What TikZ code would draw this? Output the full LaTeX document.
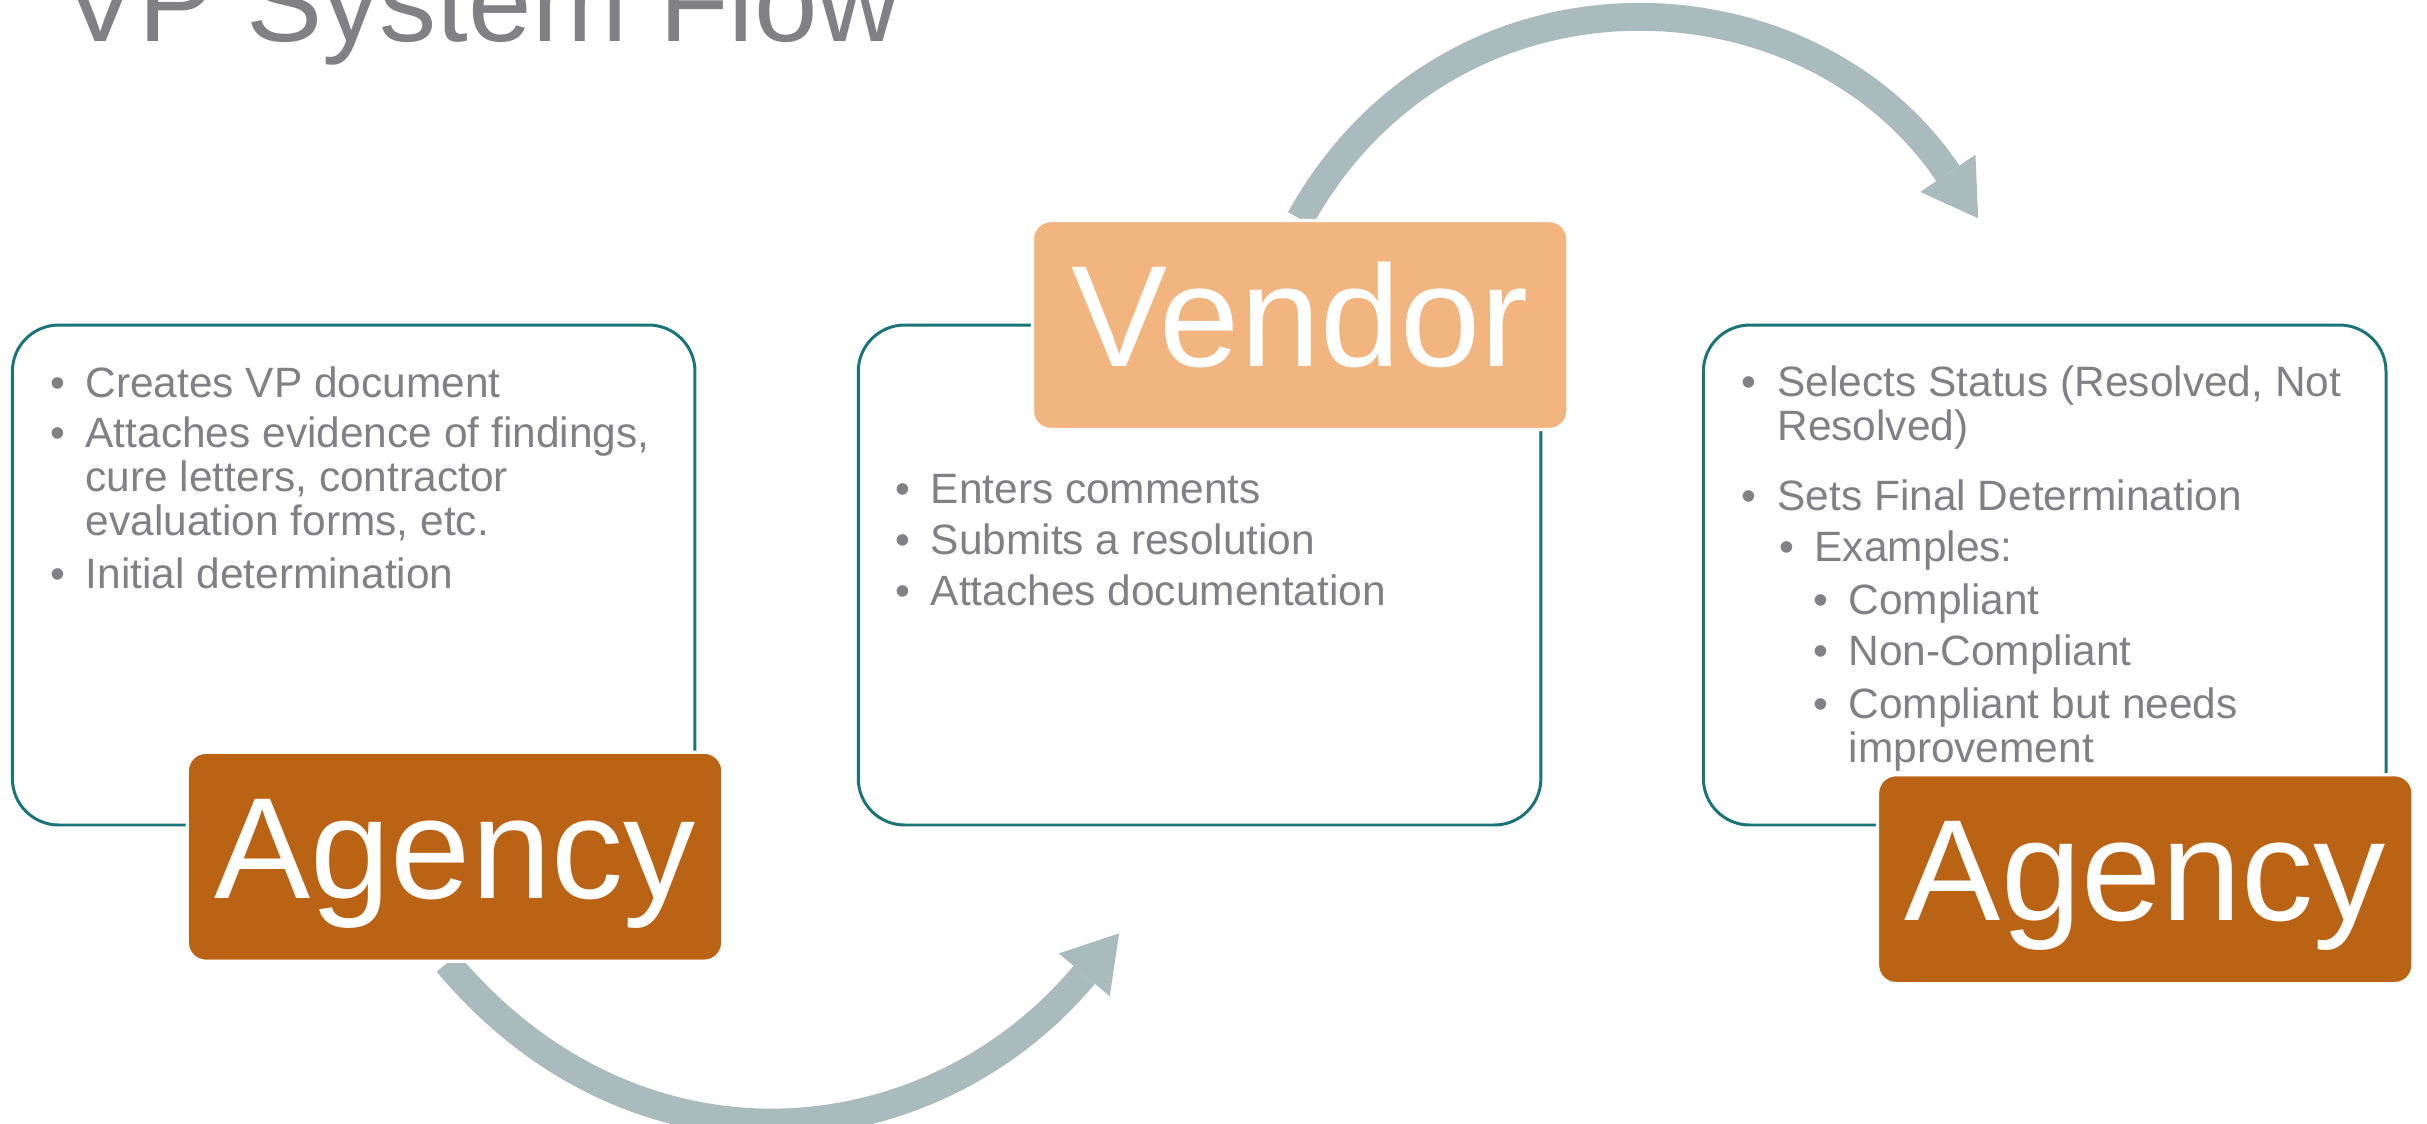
\documentclass[tikz,border=0pt]{standalone}
\usepackage{fontspec}
\setmainfont{Liberation Sans}
\usetikzlibrary{arrows.meta,backgrounds}

\definecolor{agency}{HTML}{BB6315}
\definecolor{vendor}{HTML}{F2B57F}
\definecolor{frame}{HTML}{1A7478}
\definecolor{flowgray}{HTML}{A9BBBC}
\definecolor{textgray}{HTML}{808085}

\newcommand{\bodyfont}{\fontsize{15.6pt}{16.2pt}\selectfont}
\newcommand{\bl}{\makebox[0.46cm][l]{•}}
\newcommand{\lines}[1]{\begin{tabular}[t]{@{}l@{}}#1\end{tabular}}

\begin{document}
\begin{tikzpicture}[
  x=0.2mm, y=0.2mm,
  panel/.style={draw=frame, line width=1.1pt, rounded corners=0.6cm,
    minimum width=8.82cm, minimum height=6.46cm},
  tag/.style={draw=white, line width=1.2pt, rounded corners=0.24cm, text=white,
    minimum width=6.92cm, minimum height=2.7cm,
    font=\fontsize{53pt}{60pt}\selectfont, text height=38pt, text depth=7.5pt},
  item/.style={anchor=base west, inner sep=0pt, text=textgray, font=\bodyfont},
  flow/.style={draw=flowgray, line width=0.36cm,
    -{Triangle[width=0.86cm, length=0.7cm, line width=0pt]}}
  ]
  % 画布范围
  \useasboundingbox (0,0) rectangle (1568,-726);
  % 标题
  \node[anchor=base west, inner sep=0pt, text=textgray,
    font=\fontsize{42pt}{48pt}\selectfont] (T) at (40,-27) {VP System Flow};

  % 三个圆角框
  \node[panel] (L) at (228.5,-371.5) {};
  \node[panel] (M) at (775,-371.5) {};
  \node[panel] (R) at (1321,-371.5) {};

  % 标签框
  \node[tag, fill=agency] (A) at (294,-553.5) {Agency};
  \node[tag, fill=vendor] (V) at (840,-210) {Vendor};
  \node[tag, fill=agency] (B) at (1386,-568) {Agency};

  % 左框文字
  \node[item] (l1) at (32,-257) {\bl Creates VP document};
  \node[item] (l2) at (32,-289) {\bl\lines{Attaches evidence of findings,\\
    cure letters, contractor\\ evaluation forms, etc.}};
  \node[item] (l3) at (32,-380) {\bl Initial determination};

  % 中框文字
  \node[item] (m1) at (578,-325) {\bl Enters comments};
  \node[item] (m2) at (578,-358) {\bl Submits a resolution};
  \node[item] (m3) at (578,-391) {\bl Attaches documentation};

  % 右框文字
  \node[item] (r1) at (1125,-256) {\bl\lines{Selects Status (Resolved, Not\\
    Resolved)}};
  \node[item] (r2) at (1125,-330) {\bl Sets Final Determination};
  \node[item] (r3) at (1149,-363) {\bl Examples:};
  \node[item] (r4) at (1171,-397) {\bl Compliant};
  \node[item] (r5) at (1171,-430) {\bl Non-Compliant};
  \node[item] (r6) at (1171,-464) {\bl\lines{Compliant but needs\\ improvement}};

  % 箭头终点
  \coordinate (a) at (723,-603);
  \coordinate (b) at (1278,-141);
  % 弯箭头
  \begin{scope}[on background layer]
    \draw[flow] ([xshift=-1mm]A.south) to[out=-50, in=230, looseness=1.12] (a);
    \draw[flow] (V.north) to[out=61, in=124, looseness=1.16] (b);
  \end{scope}
\end{tikzpicture}
\end{document}
